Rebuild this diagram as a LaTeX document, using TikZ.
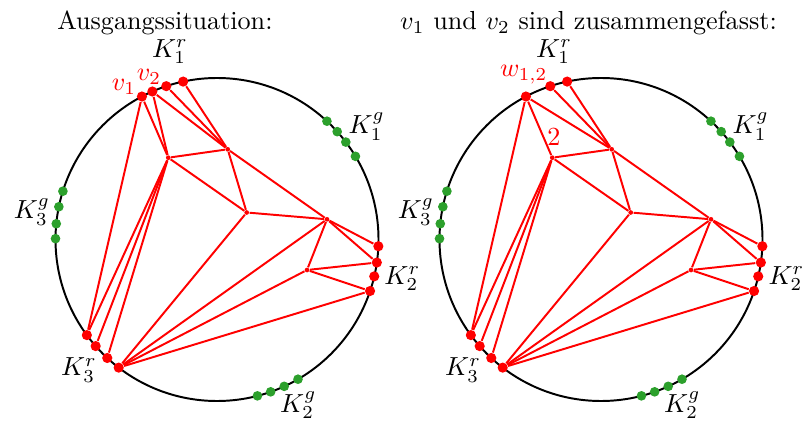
\documentclass[tikz,border=0pt]{standalone}
\definecolor{dgreen}{RGB}{44,160,44}
\newcommand{\basegraph}[1]{%
  \draw[circ] (0,0) circle (161.5);
  % inner vertices
  \node[ivert] (#1A) at (-48.7,81.8) {};
  \node[ivert] (#1B) at (10.7,90.2) {};
  \node[ivert] (#1C) at (29.7,27) {};
  \node[ivert] (#1D) at (110,20.2) {};
  \node[ivert] (#1E) at (90,-30.5) {};
  % boundary vertices
  \node[rdot] (#1v1) at (117.7:161.5) {};
  \node[rdot] (#1d3) at (108.3:161.5) {};
  \node[rdot] (#1d4) at (102.1:161.5) {};
  \node[gdot] (#1ga) at (47.1:161.5) {};
  \node[gdot] (#1gb) at (41.9:161.5) {};
  \node[gdot] (#1gc) at (37.1:161.5) {};
  \node[gdot] (#1gd) at (31.0:161.5) {};
  \node[gdot] (#1ha) at (162.6:161.5) {};
  \node[gdot] (#1hb) at (168.3:161.5) {};
  \node[gdot] (#1hc) at (174.4:161.5) {};
  \node[gdot] (#1hd) at (179.7:161.5) {};
  \node[rdot] (#1pa) at (-2.4:161.5) {};
  \node[rdot] (#1pb) at (-8.2:161.5) {};
  \node[rdot] (#1pc) at (-13.2:161.5) {};
  \node[rdot] (#1pd) at (-18.6:161.5) {};
  \node[rdot] (#1qa) at (216.3:161.5) {};
  \node[rdot] (#1qb) at (221.3:161.5) {};
  \node[rdot] (#1qc) at (227.2:161.5) {};
  \node[rdot] (#1qd) at (232.5:161.5) {};
  \node[gdot] (#1ka) at (-75.5:161.5) {};
  \node[gdot] (#1kb) at (-70.6:161.5) {};
  \node[gdot] (#1kc) at (-65.4:161.5) {};
  \node[gdot] (#1kd) at (-59.9:161.5) {};
  % edges
  \draw[edge] (#1v1) -- (#1A);
  \draw[edge] (#1v1) -- (#1qa);
  \draw[edge] (#1d3) -- (#1B);
  \draw[edge] (#1d4) -- (#1B);
  \draw[edge] (#1A) -- (#1B);
  \draw[edge] (#1A) -- (#1C);
  \draw[edge] (#1A) -- (#1qa);
  \draw[edge] (#1A) -- (#1qb);
  \draw[edge] (#1A) -- (#1qc);
  \draw[edge] (#1B) -- (#1C);
  \draw[edge] (#1B) -- (#1D);
  \draw[edge] (#1C) -- (#1D);
  \draw[edge] (#1C) -- (#1qd);
  \draw[edge] (#1D) -- (#1pa);
  \draw[edge] (#1D) -- (#1pb);
  \draw[edge] (#1D) -- (#1E);
  \draw[edge] (#1D) -- (#1qd);
  \draw[edge] (#1E) -- (#1pb);
  \draw[edge] (#1E) -- (#1pd);
  \draw[edge] (#1E) -- (#1qd);
  \draw[edge] (#1pd) -- (#1qd);
  % labels
  \node[lab] (#1K1r) at (-47,187.8) {$K_1^r$};
  \node[lab] (#1K1g) at (149.7,112.8) {$K_1^g$};
  \node[lab] (#1K3g) at (-185,27.5) {$K_3^g$};
  \node[lab] (#1K2r) at (185.3,-39.2) {$K_2^r$};
  \node[lab] (#1K3r) at (-138,-130.5) {$K_3^r$};
  \node[lab] (#1K2g) at (81.3,-165.8) {$K_2^g$};
}
\begin{document}
\begin{tikzpicture}[x=0.3828pt,y=0.3828pt,
  circ/.style={line width=0.75pt},
  edge/.style={red,line width=0.75pt},
  rdot/.style={circle,fill=red,inner sep=0pt,minimum size=3.9pt},
  gdot/.style={circle,fill=dgreen,inner sep=0pt,minimum size=3.7pt},
  ivert/.style={circle,fill=red,inner sep=0pt,minimum size=1.8pt},
  lab/.style={inner sep=0pt},
  rlab/.style={inner sep=0pt,text=red}]
\useasboundingbox (0,0) rectangle (806,424);
\node[anchor=base] (t1) at (164.9,394.7) {Ausgangssituation:};
\node[anchor=base] (t2) at (588.5,394.7) {$v_1$ und $v_2$ sind zusammengefasst:};
\begin{scope}[shift={(217,184.5)}]
  \basegraph{l}
  \node[rdot] (lv2) at (113.6:161.5) {};
  \draw[edge] (lv2) -- (lA);
  \draw[edge] (lv2) -- (lB);
  \node[rlab] (lv1lab) at (-93,152.8) {$v_1$};
  \node[rlab] (lv2lab) at (-68,162.8) {$v_2$};
\end{scope}
\begin{scope}[shift={(601,184.5)}]
  \basegraph{r}
  \draw[edge] (rv1) -- (rB);
  \node[rlab] (rwlab) at (-77.3,164.5) {$w_{1,2}$};
  \node[rlab] (rtwo) at (-47,102.8) {$2$};
\end{scope}
\end{tikzpicture}
\end{document}
